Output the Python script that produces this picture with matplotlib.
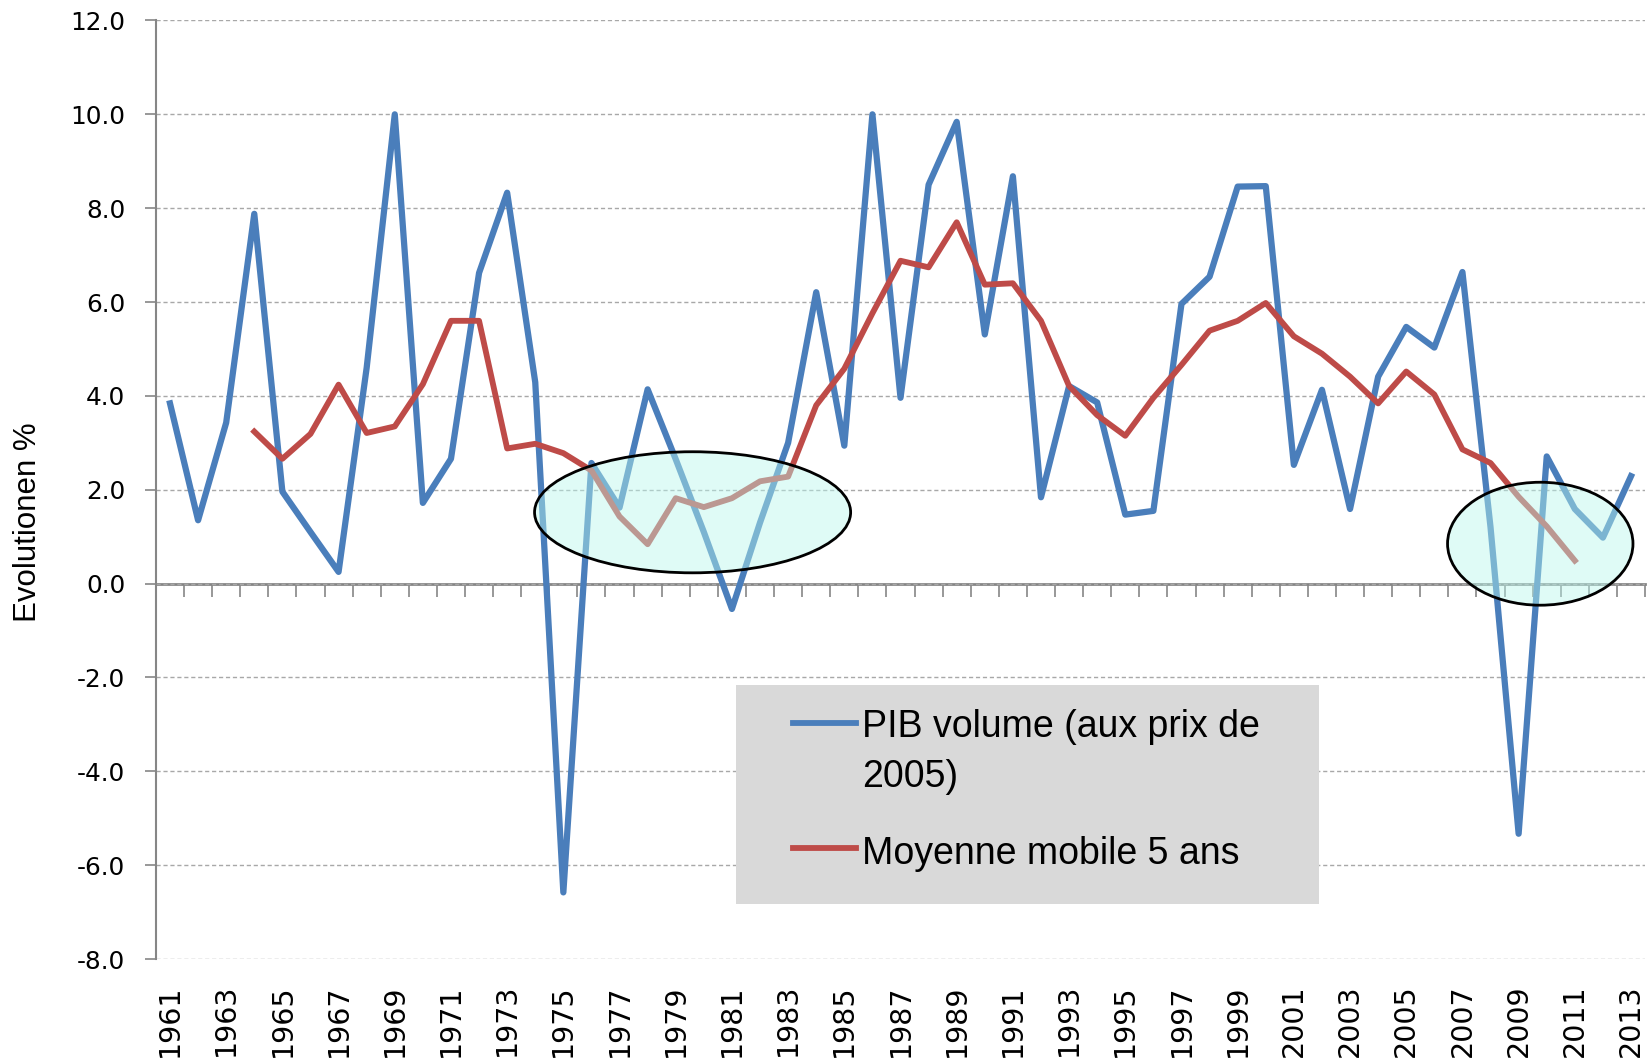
import matplotlib
matplotlib.use('Agg')
import matplotlib.pyplot as plt
from matplotlib.patches import Ellipse, Rectangle
from matplotlib.lines import Line2D

plt.rcParams['font.family'] = ['Liberation Sans', 'DejaVu Sans']
plt.rcParams['axes.unicode_minus'] = False

# ---------------- data ----------------
years = list(range(1961, 2014))
pib_volume = [3.84, 1.35, 3.43, 7.88, 1.96, 1.10, 0.25, 4.60, 10.00, 1.72,
              2.66, 6.62, 8.33, 4.29, -6.58, 2.57, 1.62, 4.14, 2.65, 1.10,
              -0.54, 1.30, 3.00, 6.21, 2.94, 10.00, 3.96, 8.50, 9.84, 5.31,
              8.68, 1.84, 4.21, 3.86, 1.47, 1.55, 5.96, 6.54, 8.46, 8.47,
              2.53, 4.13, 1.59, 4.41, 5.47, 5.03, 6.64, 1.20, -5.33, 2.71,
              1.59, 0.98, 2.29]
ma_years = list(range(1964, 2012))
moyenne_mobile = [3.24, 2.66, 3.19, 4.24, 3.21, 3.35, 4.25, 5.60, 5.60, 2.88,
                  2.98, 2.78, 2.41, 1.43, 0.84, 1.82, 1.63, 1.82, 2.18, 2.28,
                  3.80, 4.58, 5.76, 6.88, 6.74, 7.70, 6.37, 6.40, 5.60, 4.21,
                  3.59, 3.15, 3.96, 4.66, 5.39, 5.60, 5.98, 5.27, 4.90, 4.41,
                  3.84, 4.52, 4.03, 2.86, 2.57, 1.85, 1.22, 0.49]
ytick_values = [-8, -6, -4, -2, 0, 2, 4, 6, 8, 10, 12]
xtick_years = list(range(1961, 2014, 2))
label_pib = "PIB volume (aux prix de"
label_pib2 = "2005)"
label_ma = "Moyenne mobile 5 ans"
ylabel = "Evolutionen %"

BLUE = '#4a7ebb'
RED = '#be4b48'
GRAY = '#868686'

fig = plt.figure(figsize=(16.52, 10.61), dpi=100)
ax = fig.add_axes([0.0944, 0.0961, 0.9014, 0.8846])

ax.set_xlim(years[0] - 0.5, years[-1] + 0.5)
ax.set_ylim(ytick_values[0], ytick_values[-1])

# grid
ax.set_yticks(ytick_values)
ax.set_yticklabels([f"{v:.1f}" for v in ytick_values], fontsize=17.8,
                   family='DejaVu Sans')
ax.yaxis.grid(True, linestyle=(0, (3, 2)), color='#a8a8a8', lw=1.0)
ax.set_axisbelow(True)
ax.tick_params(axis='y', length=8, width=1.2, color=GRAY, pad=14)

for s in ['top', 'right', 'bottom']:
    ax.spines[s].set_visible(False)
ax.spines['left'].set_color(GRAY)
ax.spines['left'].set_linewidth(1.5)

# bottom labels (odd years)
ax.set_xticks(xtick_years)
ax.set_xticklabels([str(y) for y in xtick_years], rotation=90, fontsize=20.5,
                   family='DejaVu Sans')
ax.tick_params(axis='x', length=0, pad=18)

# zero-line category axis with boundary ticks
frac0 = (0 - ytick_values[0]) / (ytick_values[-1] - ytick_values[0])
sec = ax.secondary_xaxis(frac0)
sec.set_xticks([y - 0.5 for y in years] + [years[-1] + 0.5])
sec.tick_params(axis='x', length=9, width=1.2, color=GRAY, direction='out',
                labelbottom=False, labeltop=False)
for s in sec.spines.values():
    s.set_visible(False)
sec.spines['bottom'].set_visible(True)
sec.spines['bottom'].set_color(GRAY)
sec.spines['bottom'].set_linewidth(2.0)

# series
ax.plot(years, pib_volume, color=BLUE, lw=4.5, zorder=3)
ax.plot(ma_years, moyenne_mobile, color=RED, lw=4.2, zorder=3)

# highlight ellipses
for (cx, cy, w, h) in [(1979.6, 1.52, 11.25, 2.58), (2009.77, 0.85, 6.6, 2.62)]:
    e = Ellipse((cx, cy), w, h, facecolor=(0.72, 0.97, 0.93, 0.45),
                edgecolor='black', lw=2.0, zorder=4)
    ax.add_patch(e)

# legend (manual, grey box)
ax.add_patch(Rectangle((0.3893, 0.0586), 0.7811 - 0.3893, 0.2924 - 0.0586,
                       transform=ax.transAxes, facecolor='#d9d9d9',
                       edgecolor='none', zorder=5))
ax.add_line(Line2D([0.4278, 0.4701], [0.2515, 0.2515], transform=ax.transAxes,
                   color=BLUE, lw=4.2, zorder=6))
ax.add_line(Line2D([0.4278, 0.4701], [0.1183, 0.1183], transform=ax.transAxes,
                   color=RED, lw=4.2, zorder=6))
ax.text(0.4741, 0.2361, label_pib, transform=ax.transAxes, fontsize=27,
        va='baseline', ha='left', zorder=6)
ax.text(0.4741, 0.1833, label_pib2, transform=ax.transAxes, fontsize=27,
        va='baseline', ha='left', zorder=6)
ax.text(0.4741, 0.1015, label_ma, transform=ax.transAxes, fontsize=27,
        va='baseline', ha='left', zorder=6)

ax.set_ylabel(ylabel, fontsize=22.5, va='center')
ax.yaxis.set_label_coords(-0.086, 0.4656)

fig.savefig('out.png', dpi=100)
